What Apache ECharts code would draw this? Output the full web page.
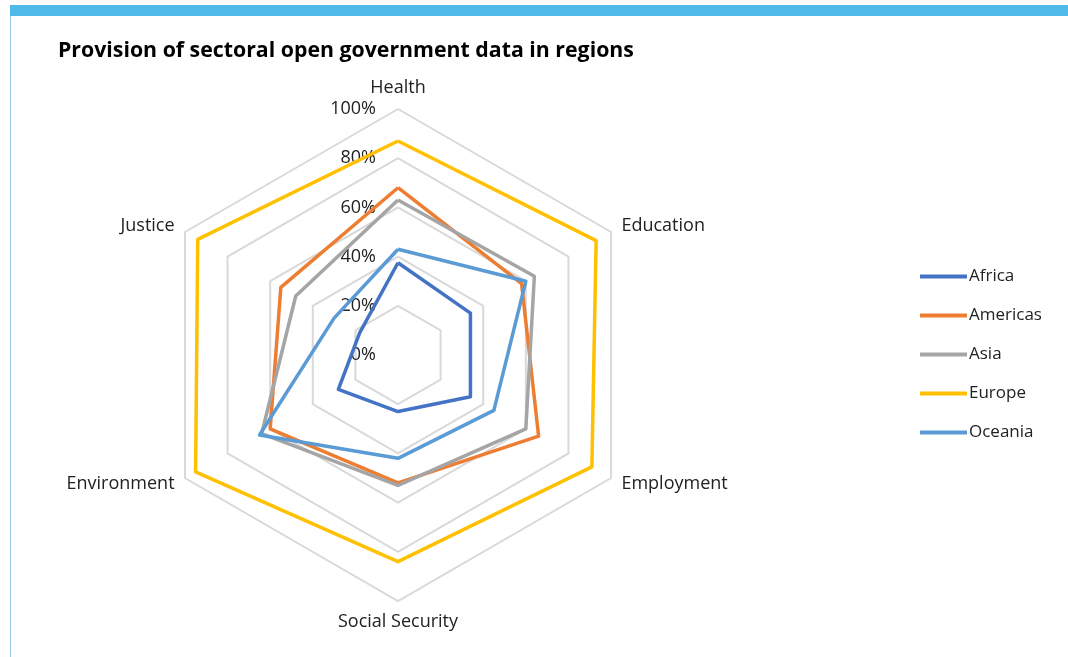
<!DOCTYPE html>
<html><head><meta charset="utf-8">
<script src="https://cdn.jsdelivr.net/npm/echarts@6/dist/echarts.min.js"></script>
<style>html,body{margin:0;padding:0;background:#fff;}#c{width:1068px;height:657px;}</style>
</head><body><div id="c"></div>
<script>
const categories = ['Health','Education','Employment','Social Security','Environment','Justice'];
const tickLabels = ['0%','20%','40%','60%','80%','100%'];
const africa   = [37.5, 34, 34, 23, 28, 18];
const americas = [68, 58, 66, 52, 60, 55];
const asia     = [63, 64, 60, 53, 64, 48];
const europe   = [87, 93, 91, 84, 95, 94];
const oceania  = [43, 60, 45, 42, 65, 30];
const seriesNames = ['Africa','Americas','Asia','Europe','Oceania'];
const seriesColors = ['#4472C4','#ED7D31','#A5A5A5','#FFC000','#5B9BD5'];
const seriesData = [africa, americas, asia, europe, oceania];

// ECharts radar places indicators counter-clockwise; chart runs clockwise
const order = [0,5,4,3,2,1];
const chart = echarts.init(document.getElementById('c'));
const font = 'Open Sans, Noto Sans, sans-serif';
chart.setOption({
  animation:false,
  backgroundColor:'#fff',
  graphic:[
    {type:'rect',shape:{x:10,y:5,width:1058,height:11},style:{fill:'#4FBAEA'}},
    {type:'rect',shape:{x:10,y:16,width:1,height:641},style:{fill:'#9CCFEF'}}
  ],
  title:{text:'Provision of sectoral open government data in regions',left:53,top:35,
    textStyle:{fontFamily:font,fontWeight:'bold',fontSize:21.3,color:'#000'}},
  legend:{orient:'vertical',left:915,top:263,itemGap:22,itemWidth:47,itemHeight:4,
    icon:'rect',textStyle:{fontFamily:font,fontSize:17,color:'#222',padding:[0,0,0,-3]},
    data:seriesNames},
  radar:{
    center:[398,355],radius:246,startAngle:90,splitNumber:5,shape:'polygon',
    indicator:order.map((k,i)=>({name:categories[k],min:0,max:100,
      axisLabel:{show:i===0}})),
    axisName:{fontFamily:font,fontSize:18,color:'#222'},
    nameGap:12,
    splitLine:{lineStyle:{color:'#D9D9D9',width:2}},
    splitArea:{show:false},
    axisLine:{show:false},
    axisTick:{show:false},
    axisLabel:{show:false,fontFamily:font,fontSize:18,color:'#222',align:'right',margin:22,
      formatter:v=>tickLabels[Math.round(v/20)]}
  },
  series:[{type:'radar',symbol:'none',
    data:seriesNames.map((n,i)=>({name:n,value:order.map(k=>seriesData[i][k]),
      lineStyle:{color:seriesColors[i],width:3.5},itemStyle:{color:seriesColors[i]}}))
  }]
});
</script></body></html>
